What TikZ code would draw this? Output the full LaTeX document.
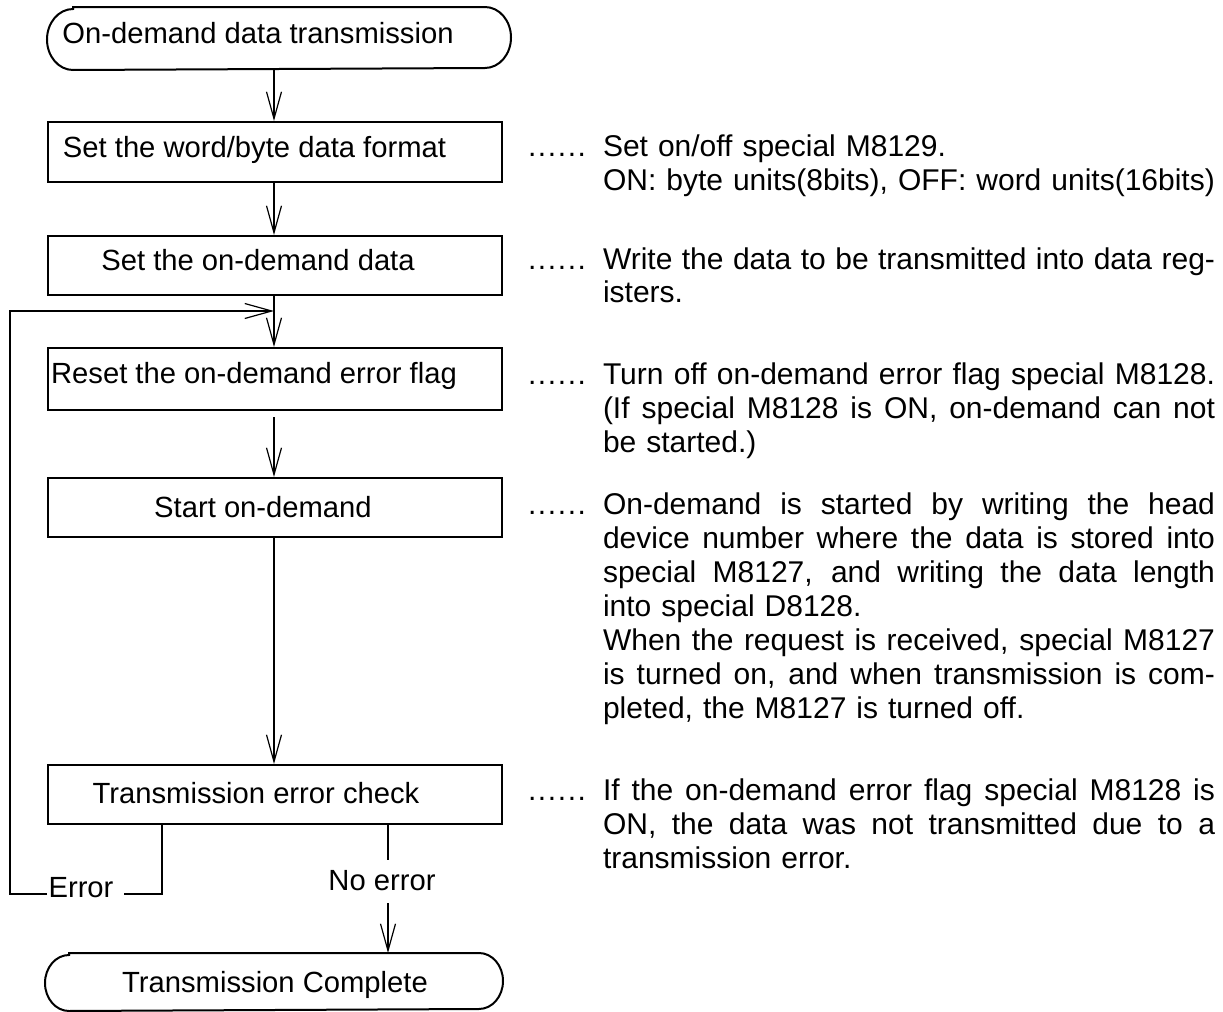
\documentclass[tikz,border=0pt]{standalone}
\usepackage{fontspec}
\setmainfont{Liberation Sans}
\usetikzlibrary{arrows.meta}
\newcommand\jline[1]{\makebox[306pt][s]{\spaceskip=0.278em plus 1fil\relax\xspaceskip=0pt\relax #1}}
\newcommand\sixdots{\hbox to 29pt{.\hfil.\hfil.\hfil.\hfil.\hfil.}}
\begin{document}
\begin{tikzpicture}[x=0.5pt,y=-0.5pt,
  line width=1pt,
  box/.style={draw, rectangle, inner sep=0pt, minimum width=227pt},
  term/.style={rectangle, inner sep=0pt},
  lbl/.style={inner sep=0pt, anchor=base, font=\fontsize{14.6pt}{17pt}\selectfont},
  rtxt/.style={inner sep=0pt, anchor=base west, text width=306pt, font=\fontsize{15pt}{17pt}\selectfont},
  dotsn/.style={inner sep=0pt, anchor=base west, font=\fontsize{15pt}{17pt}\selectfont},
  arr/.style={-{Straight Barb[length=13.5pt,width=7.5pt,line width=0.6pt]}},
]
\useasboundingbox (0,0) rectangle (1223,1012);

% terminals
\node[term, minimum width=231pt, minimum height=30.5pt] (start) at (279,38.5) {};
\draw ([xshift=13pt]start.north west) -- ([xshift=-13pt]start.north east)
  arc[start angle=90, end angle=-90, x radius=13pt, y radius=15.25pt]
  -- ([xshift=13pt]start.south west)
  arc[start angle=270, end angle=90, x radius=13pt, y radius=15.25pt] -- cycle;
\node[lbl] (startt) at (258,43) {On-demand data transmission};

\node[term, minimum width=228pt, minimum height=28pt] (end) at (274,982) {};
\draw ([xshift=12pt]end.north west) -- ([xshift=-12pt]end.north east)
  arc[start angle=90, end angle=-90, x radius=12pt, y radius=14pt]
  -- ([xshift=12pt]end.south west)
  arc[start angle=270, end angle=90, x radius=12pt, y radius=14pt] -- cycle;
\node[lbl] (endt) at (275,992) {Transmission Complete};

% process boxes
\node[box, minimum height=30pt] (b1) at (275,152) {};
\node[lbl] (b1t) at (254.5,157) {Set the word/byte data format};
\node[box, minimum height=29.5pt] (b2) at (275,265.5) {};
\node[lbl] (b2t) at (258,270) {Set the on-demand data};
\node[box, minimum height=31pt] (b3) at (275,379) {};
\node[lbl] (b3t) at (254,383) {Reset the on-demand error flag};
\node[box, minimum height=29.5pt] (b4) at (275,507.5) {};
\node[lbl] (b4t) at (263,517) {Start on-demand};
\node[box, minimum height=29.5pt] (b5) at (275,794.5) {};
\node[lbl] (b5t) at (256,803) {Transmission error check};

% branch labels
\node[lbl] (err) at (81,897) {Error};
\node[lbl] (noerr) at (382,890) {No error};

% connectors
\coordinate (sp) at (274,0);
\draw[arr] (start.south -| sp) -- (b1.north -| sp);
\draw[arr] (b1.south -| sp) -- (b2.north -| sp);
\draw[arr] (b2.south -| sp) -- (b3.north -| sp);
\draw[arr, shorten <=3pt] (b3.south -| sp) -- (b4.north -| sp);
\draw[arr] (b4.south -| sp) -- (b5.north -| sp);

\coordinate (ec) at (162,894);
\coordinate (er) at (124,894);
\coordinate (el) at (47,894);
\coordinate (lc) at (10,894);
\coordinate (lt) at (10,311);
\coordinate (lin) at (274,311);
\draw (b5.south -| ec) -- (ec) -- (er);
\draw[arr] (el) -- (lc) -- (lt) -- (lin);

\coordinate (n1) at (388,860);
\coordinate (n2) at (388,903);
\draw (b5.south -| n1) -- (n1);
\draw[arr] (n2) -- (n2 |- end.north);

% dotted leaders
\node[dotsn] (d1) at (527,156) {\sixdots};
\node[dotsn] (d2) at (527,269) {\sixdots};
\node[dotsn] (d3) at (527,384) {\sixdots};
\node[dotsn] (d4) at (527,514) {\sixdots};
\node[dotsn] (d5) at (527,800) {\sixdots};

% descriptions
\node[rtxt] (r1) at (602,156) {Set on/off special M8129.\\ON: byte units(8bits), OFF: word units(16bits)};
\node[rtxt] (r2) at (602,269) {\jline{Write the data to be transmitted into data reg-}\\isters.};
\node[rtxt] (r3) at (602,384) {\jline{Turn off on-demand error flag special M8128.}\\\jline{(If special M8128 is ON, on-demand can not}\\be started.)};
\node[rtxt] (r4) at (602,514) {\jline{On-demand is started by writing the head}\\\jline{device number where the data is stored into}\\\jline{special M8127, and writing the data length}\\into special D8128.\\\jline{When the request is received, special M8127}\\\jline{is turned on, and when transmission is com-}\\pleted, the M8127 is turned off.};
\node[rtxt] (r5) at (602,800) {\jline{If the on-demand error flag special M8128 is}\\\jline{ON, the data was not transmitted due to a}\\transmission error.};
\end{tikzpicture}
\end{document}
